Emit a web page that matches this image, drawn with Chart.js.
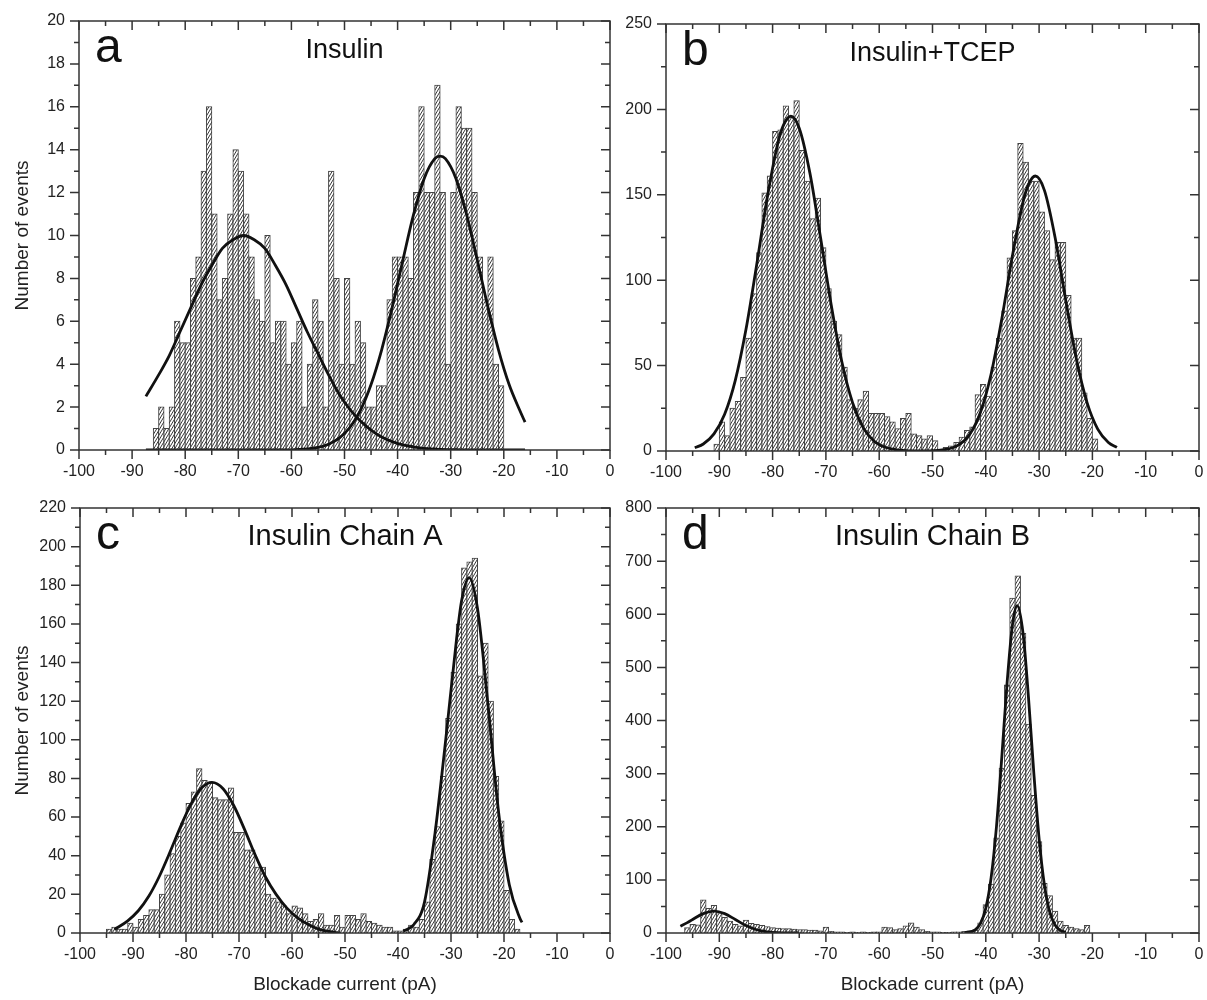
<!DOCTYPE html>
<html>
<head>
<meta charset="utf-8">
<title>Blockade current histograms</title>
<script src="https://cdn.jsdelivr.net/npm/chart.js@4.4.0/dist/chart.umd.min.js"></script>
<style>
  body { margin: 0; background: #fff; }
  #wrap { position: relative; width: 1207px; height: 1000px; }
  canvas { position: absolute; }
</style>
</head>
<body>
<div id="wrap">
  <canvas id="chartA" width="625" height="480" style="left:0;top:0"></canvas>
  <canvas id="chartB" width="582" height="480" style="left:625px;top:0"></canvas>
  <canvas id="chartC" width="625" height="520" style="left:0;top:480px"></canvas>
  <canvas id="chartD" width="582" height="520" style="left:625px;top:480px"></canvas>
</div>
<script>
// bin width of all histograms (pA)
const binWidth = 1;

// panel a - Insulin
const aFirstBin = -85.5;
const aCounts = [1, 2, 1, 2, 6, 5, 5, 8, 9, 13, 16, 11, 7, 8, 11, 14, 13, 11, 9, 7, 6, 10, 5, 6, 6, 4, 5, 6, 2, 4,
  7, 6, 2, 13, 8, 4, 8, 4, 6, 5, 2, 2, 3, 3, 7, 9, 9, 9, 8, 12, 16, 12, 12, 17, 12, 4, 12, 16, 15, 15,
  12, 9, 7, 9, 4, 3];
const aFit1X = [-87.4, -85, -83, -81, -79, -77, -75, -73, -71, -69, -67, -65, -63, -61, -59, -57, -55, -53, -51, -49,
  -47, -45, -43, -41, -39, -37, -35, -32, -28, -24, -20, -16];
const aFit1Y = [2.5, 3.5, 4.4, 5.5, 6.6, 7.7, 8.6, 9.4, 9.8, 10, 9.8, 9.4, 8.6, 7.7, 6.6, 5.5, 4.5, 3.5, 2.6, 1.9,
  1.35, 0.93, 0.61, 0.39, 0.24, 0.15, 0.08, 0.03, 0.01, 0, 0, 0];
const aFit2X = [-87.4, -70, -60, -57, -55, -53, -51, -49, -47, -45, -43, -41, -39, -37, -35, -33, -32, -31, -29, -27,
  -25, -23, -21, -19, -17, -16];
const aFit2Y = [0, 0, 0.01, 0.05, 0.12, 0.27, 0.55, 1.05, 1.85, 3.05, 4.67, 6.67, 8.86, 10.97, 12.65, 13.58, 13.7, 13.58, 12.65, 10.97,
  8.86, 6.67, 4.67, 3.05, 1.85, 1.3];

// panel b - Insulin+TCEP
const bFirstBin = -90.5;
const bCounts = [4, 17, 9, 25, 29, 43, 66, 92, 116, 151, 161, 187, 188, 202, 196, 205, 176, 158, 136, 148,
  119, 95, 76, 68, 49, 30, 25, 30, 35, 22, 22, 22, 20, 17, 13, 19, 22, 10, 9, 7,
  9, 6, 1, 2, 3, 5, 8, 12, 14, 33, 39, 32, 49, 66, 82, 113, 129, 180, 169, 158,
  158, 140, 129, 112, 122, 122, 91, 66, 66, 34, 19, 7];
const bFit1X = [-94.6, -93, -91, -89, -87, -85, -83, -81, -79, -78, -76.6, -75, -73, -71, -69, -67, -65, -63, -61, -59, -57, -55, -53];
const bFit1Y = [1.9, 4.1, 10, 21.5, 41.4, 71.1, 108.8, 148.4, 180.5, 190.5, 196, 189, 162.7, 124.9, 85.5, 52.1, 28.3, 13.7, 5.9, 2.3, 0.8, 0.2, 0];
const bFit2X = [-53, -51, -49, -47, -45, -43, -41, -39, -37, -35, -33, -32, -30.7, -29, -27, -25, -23, -21, -19, -17, -15.4];
const bFit2Y = [0, 0.1, 0.3, 1.2, 3.7, 9.8, 22.7, 45.1, 77.3, 114.4, 146, 156, 161, 152.6, 125, 88.3, 53.8, 28.3, 12.8, 5, 2.1];

// panel c - Insulin Chain A
const cFirstBin = -94.5;
const cCounts = [2, 3, 2, 2, 5, 3, 7, 9, 12, 12, 20, 30, 41, 50, 57, 67, 73, 85, 79, 78,
  70, 69, 69, 75, 52, 52, 43, 43, 34, 34, 20, 18, 16, 14, 10, 14, 13, 10, 6, 7,
  10, 4, 4, 9, 3, 9, 9, 7, 10, 6, 5, 4, 3, 3, 1, 1, 2, 4, 3, 7,
  16, 38, 55, 81, 111, 135, 160, 189, 192, 194, 133, 150, 120, 81, 58, 22, 7, 2];
const cFit1X = [-93.5, -91, -89, -87, -85, -83, -81, -79, -77, -75.1, -73, -71, -69, -67, -65, -63, -61, -59, -57, -55, -53, -51];
const cFit1Y = [1.8, 6.3, 11.5, 19.1, 29.5, 42, 55.2, 67.1, 75.3, 78, 74.7, 66, 53.9, 40.7, 29, 20, 13, 8, 4.5, 2, 0.8, 0];
const cFit2X = [-39, -37, -35, -33, -31, -29, -28, -26.6, -25, -23, -21, -19, -17, -16.6];
const cFit2Y = [0.9, 4.4, 16, 52, 100, 151, 172, 184, 168, 117.5, 62, 25, 7.6, 5.5];

// panel d - Insulin Chain B
const dFirstBin = -96;
const dCounts = [10, 16, 15, 62, 46, 52, 38, 29, 22, 16, 13, 24, 18, 16, 14, 12, 10, 9, 8, 8,
  7, 6, 6, 5, 5, 4, 11, 3, 2, 2, 1, 2, 1, 2, 1, 2, 2, 11, 10, 6,
  8, 13, 19, 11, 6, 3, 2, 2, 1, 1, 2, 2, 3, 4, 5, 19, 53, 92, 179, 310,
  467, 630, 672, 564, 393, 259, 172, 93, 70, 41, 22, 14, 11, 8, 6, 14];
const dFit1X = [-97.3, -96, -95, -93, -91, -89, -87, -85, -83, -81, -79, -77, -75];
const dFit1Y = [12.6, 19.5, 25.5, 36.4, 41, 36.4, 25.5, 14, 6.1, 2.1, 0.6, 0.1, 0];
const dFit2X = [-44, -42, -41, -40, -39, -38, -37, -36, -35, -34.1, -33, -32, -31, -30, -29, -28, -27, -26, -25];
const dFit2Y = [0.4, 6.1, 18.2, 46.9, 104.3, 200, 330.7, 471.7, 580, 616, 563, 444.6, 302.6, 177.6, 89.9, 39.3, 14.8, 4.8, 1.3];

const FONT = '"Liberation Sans", Arial, sans-serif';
const TEXT = '#222';
const AXIS = '#333';

// hatched fill for the histogram bars
function hatchPattern() {
  const tile = document.createElement('canvas');
  tile.width = 3;
  tile.height = 5;
  const t = tile.getContext('2d');
  t.fillStyle = '#fff';
  t.fillRect(0, 0, 3, 5);
  t.strokeStyle = '#3a3a3a';
  t.lineWidth = 1;
  t.beginPath();
  for (const dx of [-3, 0, 3]) {
    t.moveTo(dx, 5);
    t.lineTo(dx + 3, 0);
  }
  t.stroke();
  return t.createPattern(tile, 'repeat');
}

// box frame, minor/major ticks on all four sides, panel letter and title
const framePlugin = {
  id: 'frame',
  afterDatasetsDraw(chart, args, opts) {
    const { ctx, chartArea, scales } = chart;
    const { left, right, top, bottom } = chartArea;
    const x = scales.x, y = scales.y;
    ctx.save();
    ctx.strokeStyle = AXIS;
    ctx.lineWidth = 1.5;
    ctx.strokeRect(left, top, right - left, bottom - top);
    ctx.beginPath();
    let i = 0;
    for (let v = x.min; v <= x.max + 1e-9; v += opts.minorX, i++) {
      const px = x.getPixelForValue(v);
      const len = i % 2 === 0 ? 9 : 5;
      ctx.moveTo(px, bottom); ctx.lineTo(px, bottom + len);
      ctx.moveTo(px, top); ctx.lineTo(px, top + len);
    }
    i = 0;
    for (let v = y.min; v <= y.max + 1e-9; v += opts.minorY, i++) {
      const py = y.getPixelForValue(v);
      const len = i % 2 === 0 ? 9 : 5;
      ctx.moveTo(left - len, py); ctx.lineTo(left, py);
      ctx.moveTo(right - len, py); ctx.lineTo(right, py);
    }
    ctx.stroke();

    ctx.fillStyle = '#111';
    ctx.textBaseline = 'alphabetic';
    ctx.font = '48px ' + FONT;
    ctx.textAlign = 'left';
    ctx.fillText(opts.letter, left + 16, top + 41);
    ctx.font = opts.titleSize + 'px ' + FONT;
    ctx.textAlign = 'center';
    ctx.fillText(opts.title, (left + right) / 2, top + 37);
    ctx.restore();
  }
};

function makeChart(id, firstBin, counts, fits, o) {
  const bars = counts.map((c, i) => ({ x: firstBin + i * binWidth, y: c }));
  const datasets = [{
    type: 'bar',
    data: bars,
    backgroundColor: hatchPattern(),
    borderColor: '#444',
    borderWidth: 1,
    inflateAmount: 0.5,
    barPercentage: 1,
    categoryPercentage: 1,
    order: 2
  }];
  fits.forEach(f => {
    datasets.push({
      type: 'line',
      data: f[0].map((xv, i) => ({ x: xv, y: f[1][i] })),
      borderColor: '#111',
      borderWidth: 2.8,
      pointRadius: 0,
      fill: false,
      cubicInterpolationMode: 'monotone',
      order: 1
    });
  });

  const tickFont = { family: FONT, size: 16 };
  return new Chart(document.getElementById(id), {
    type: 'bar',
    data: { datasets: datasets },
    options: {
      responsive: false,
      animation: false,
      devicePixelRatio: 1,
      layout: { padding: { top: o.padTop, right: o.padRight, left: 0, bottom: 0 } },
      plugins: {
        legend: { display: false },
        tooltip: { enabled: false },
        frame: { letter: o.letter, title: o.title, titleSize: o.titleSize, minorX: 5, minorY: o.yMinor }
      },
      scales: {
        x: {
          type: 'linear',
          min: -100,
          max: 0,
          offset: false,
          grid: { display: false, tickLength: 9 },
          border: { display: false },
          ticks: { stepSize: 10, font: tickFont, color: TEXT, padding: 3, maxRotation: 0, autoSkip: false },
          title: { display: o.xTitle, text: 'Blockade current (pA)', color: TEXT,
                   font: { family: FONT, size: 19 }, padding: { top: 0, bottom: 4 } },
          afterFit(s) { s.height = o.xHeight; }
        },
        y: {
          type: 'linear',
          min: 0,
          max: o.yMax,
          grid: { display: false, tickLength: 9 },
          border: { display: false },
          ticks: { stepSize: o.yStep, font: tickFont, color: TEXT, padding: 5 },
          title: { display: o.yTitle, text: 'Number of events', color: TEXT,
                   font: { family: FONT, size: 19 }, padding: { top: 11, bottom: 0 } },
          afterFit(s) { s.width = o.yWidth; }
        }
      }
    },
    plugins: [framePlugin]
  });
}

makeChart('chartA', aFirstBin, aCounts, [[aFit1X, aFit1Y], [aFit2X, aFit2Y]], {
  letter: 'a', title: 'Insulin', titleSize: 27, yMax: 20, yStep: 2, yMinor: 1,
  padTop: 21, padRight: 15, yWidth: 79, xHeight: 30, xTitle: false, yTitle: true
});
makeChart('chartB', bFirstBin, bCounts, [[bFit1X, bFit1Y], [bFit2X, bFit2Y]], {
  letter: 'b', title: 'Insulin+TCEP', titleSize: 27, yMax: 250, yStep: 50, yMinor: 25,
  padTop: 24, padRight: 8, yWidth: 41, xHeight: 29, xTitle: false, yTitle: false
});
makeChart('chartC', cFirstBin, cCounts, [[cFit1X, cFit1Y], [cFit2X, cFit2Y]], {
  letter: 'c', title: 'Insulin Chain A', titleSize: 29, yMax: 220, yStep: 20, yMinor: 10,
  padTop: 28, padRight: 15, yWidth: 80, xHeight: 67, xTitle: true, yTitle: true
});
makeChart('chartD', dFirstBin, dCounts, [[dFit1X, dFit1Y], [dFit2X, dFit2Y]], {
  letter: 'd', title: 'Insulin Chain B', titleSize: 29, yMax: 800, yStep: 100, yMinor: 50,
  padTop: 28, padRight: 8, yWidth: 41, xHeight: 67, xTitle: true, yTitle: false
});
</script>
</body>
</html>
